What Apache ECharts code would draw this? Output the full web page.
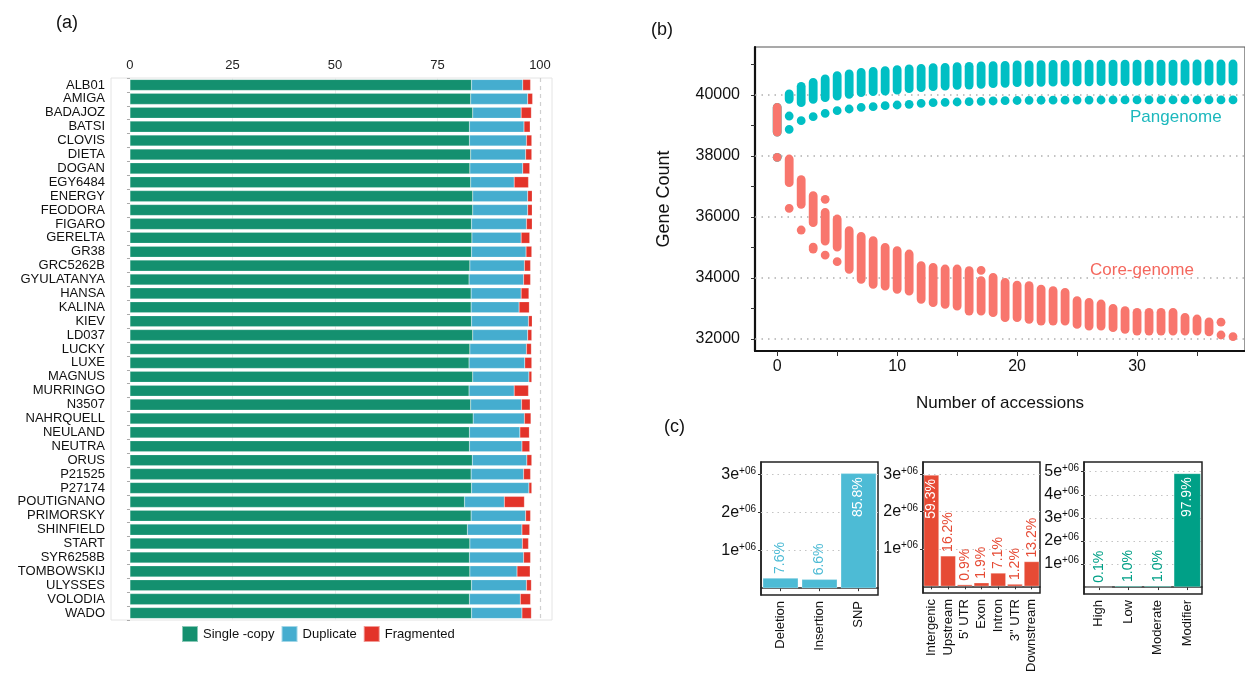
<!DOCTYPE html>
<html>
<head>
<meta charset="utf-8">
<script src="https://cdn.jsdelivr.net/npm/echarts@6/dist/echarts.min.js"></script>
<style>
  html, body { margin: 0; padding: 0; background: #fff; }
  #main { width: 1245px; height: 675px; }
</style>
</head>
<body>
<div id="main"></div>
<script>
const FONT = '"Liberation Sans", Arial, Helvetica, sans-serif';

// (a) BUSCO completeness per accession (%)
const accessions = ['ALB01', 'AMIGA', 'BADAJOZ', 'BATSI', 'CLOVIS', 'DIETA', 'DOGAN', 'EGY6484', 'ENERGY',
  'FEODORA', 'FIGARO', 'GERELTA', 'GR38', 'GRC5262B', 'GYULATANYA', 'HANSA', 'KALINA', 'KIEV', 'LD037',
  'LUCKY', 'LUXE', 'MAGNUS', 'MURRINGO', 'N3507', 'NAHRQUELL', 'NEULAND', 'NEUTRA', 'ORUS', 'P21525',
  'P27174', 'POUTIGNANO', 'PRIMORSKY', 'SHINFIELD', 'START', 'SYR6258B', 'TOMBOWSKIJ', 'ULYSSES',
  'VOLODIA', 'WADO'];
const singleCopy = [83.3, 83.1, 83.6, 82.8, 82.8, 83.1, 82.9, 83.1, 83.6, 83.6, 83.3, 83.4, 83.3, 82.9,
  82.7, 83.2, 83.2, 83.3, 83.6, 82.9, 82.7, 83.6, 82.7, 83.1, 83.7, 82.8, 82.8, 83.5, 83.2, 83.3, 81.6,
  83.2, 82.3, 82.9, 82.8, 82.9, 83.3, 82.8, 83.3];
const duplicated = [12.5, 13.9, 11.8, 13.3, 13.9, 13.4, 12.9, 10.6, 13.4, 13.4, 13.4, 12.0, 13.3, 13.3,
  13.3, 12.2, 11.7, 13.9, 13.4, 13.8, 13.6, 13.7, 11.0, 12.4, 12.5, 12.3, 12.8, 13.3, 12.8, 14.0, 9.7,
  13.3, 13.3, 12.8, 13.2, 11.5, 13.4, 12.4, 12.3];
const fragmented = [1.9, 1.2, 2.5, 1.5, 1.3, 1.5, 1.7, 3.5, 1.1, 1.1, 1.4, 2.1, 1.4, 1.5, 1.7, 1.9, 2.5,
  0.9, 1.0, 1.2, 1.7, 0.7, 3.5, 2.1, 1.6, 2.3, 1.9, 1.2, 1.7, 0.7, 4.9, 1.2, 1.9, 1.5, 1.7, 3.2, 1.2,
  2.5, 2.3];
const buscoTicks = [0, 25, 50, 75, 100];

// (b) pan/core genome curves: per number of accessions, range of gene counts
const nAccessions = [0, 1, 2, 3, 4, 5, 6, 7, 8, 9, 10, 11, 12, 13, 14, 15, 16, 17, 18, 19, 20, 21, 22, 23,
  24, 25, 26, 27, 28, 29, 30, 31, 32, 33, 34, 35, 36, 37, 38];
const panHigh = [39596, 40034, 40286, 40417, 40526, 40635, 40690, 40744, 40777, 40800, 40832, 40854, 40876,
  40898, 40909, 40930, 40941, 40952, 40963, 40974, 40985, 40990, 40995, 41000, 41003, 41006, 41008, 41010,
  41011, 41012, 41013, 41014, 41015, 41015, 41016, 41016, 41017, 41017, 41017];
const panLow = [38786, 39857, 39747, 39857, 39912, 39966, 40021, 40075, 40108, 40130, 40163, 40207, 40240,
  40272, 40294, 40316, 40327, 40349, 40371, 40382, 40404, 40410, 40415, 40420, 40425, 40430, 40434, 40437,
  40440, 40442, 40444, 40446, 40448, 40450, 40452, 40454, 40456, 40458, 40459];
const panLone = [[0, 37956], [1, 39311], [1, 38875], [2, 39157], [3, 39290], [4, 39400], [5, 39486],
  [6, 39541], [7, 39595], [8, 39617], [9, 39650], [10, 39672], [11, 39694], [12, 39727], [13, 39749],
  [14, 39760], [15, 39771], [16, 39782], [17, 39793], [18, 39804], [19, 39815], [20, 39820], [21, 39825],
  [22, 39828], [23, 39830], [24, 39832], [25, 39834], [26, 39835], [27, 39836], [28, 39837], [29, 39838],
  [30, 39838], [31, 39839], [32, 39839], [33, 39840], [34, 39840], [35, 39840], [36, 39840], [37, 39840],
  [38, 39840]];
const coreHigh = [39596, 37901, 37223, 36699, 36152, 35934, 35551, 35365, 35223, 35004, 34895, 34786, 34404,
  34349, 34294, 34294, 34240, 33912, 34021, 33857, 33769, 33747, 33638, 33584, 33529, 33256, 33201, 33147,
  33004, 32928, 32873, 32873, 32873, 32873, 32709, 32655, 32560, 32131, 32080];
const coreLow = [38786, 37125, 36414, 35813, 35212, 35015, 34283, 33955, 33791, 33736, 33627, 33572, 33299,
  33190, 33135, 33081, 32917, 32917, 32862, 32698, 32698, 32643, 32589, 32589, 32589, 32479, 32425, 32425,
  32370, 32316, 32261, 32261, 32261, 32261, 32261, 32261, 32230, 32131, 32080];
const coreLone = [[0, 37956], [1, 36283], [2, 35573], [3, 35015], [3, 34950], [4, 36578], [4, 34752],
  [5, 34535], [17, 34250], [37, 32551]];
const geneTicks = [32000, 34000, 36000, 38000, 40000];
const geneMinor = [32000, 33000, 34000, 35000, 36000, 37000, 38000, 39000, 40000, 41000];
const accTicks = [0, 10, 20, 30];
const accMinor = [0, 5, 10, 15, 20, 25, 30, 35];

// (c) variant annotation counts
const varTypes = ['Deletion', 'Insertion', 'SNP'];
const varCounts = [268000, 233000, 3030000];
const varPct = ['7.6%', '6.6%', '85.8%'];
const regions = ['Intergenic', 'Upstream', "5' UTR", 'Exon', 'Intron', '3" UTR', 'Downstream'];
const regionCounts = [2980000, 815000, 45000, 96000, 357000, 60000, 664000];
const regionPct = ['59.3%', '16.2%', '0.9%', '1.9%', '7.1%', '1.2%', '13.2%'];
const impacts = ['High', 'Low', 'Moderate', 'Modifier'];
const impactCounts = [5000, 50300, 50300, 4925000];
const impactPct = ['0.1%', '1.0%', '1.0%', '97.9%'];
const countTicks3 = [1000000, 2000000, 3000000];
const countTicks5 = [1000000, 2000000, 3000000, 4000000, 5000000];

const GREEN = '#14906f', BLUE = '#45adcf', RED = '#e3342a';
const PAN = '#00bfc4', CORE = '#f8766d';
const C1 = '#4dbbd5', C2 = '#e64b35', C3 = '#00a087';

const chart = echarts.init(document.getElementById('main'));

// background reference lines, kept under the marks
function gridLines(xi, yi, key, values, lineStyle) {
  return {
    type: 'line', xAxisIndex: xi, yAxisIndex: yi, data: [], silent: true, z: 1,
    markLine: {
      silent: true, symbol: 'none', animation: false, label: { show: false }, z: 1,
      lineStyle: lineStyle,
      data: values.map(v => ({ [key]: v }))
    }
  };
}

// a column of overlapping dots drawn as a rounded bar
function dotColumn(color) {
  return function (params, api) {
    const top = api.coord([api.value(0), api.value(2)]);
    const bot = api.coord([api.value(0), api.value(1)]);
    const r = 4.4;
    return {
      type: 'rect',
      shape: { x: top[0] - r, y: top[1] - r, width: 2 * r, height: bot[1] - top[1] + 2 * r, r: r },
      style: { fill: color }
    };
  };
}

const panData = nAccessions.map((x, i) => [x, panLow[i], panHigh[i]])
  .concat(panLone.map(p => [p[0], p[1], p[1]]));
const coreData = nAccessions.map((x, i) => [x, coreLow[i], coreHigh[i]])
  .concat(coreLone.map(p => [p[0], p[1], p[1]]));

function sciLabel(v) {
  return '{m|' + Math.round(v / 1e6) + 'e}{s|+06}';
}

function countYAxis(gi, min, max, ticks) {
  return {
    type: 'value', gridIndex: gi, min: min, max: max,
    axisLine: { show: true, lineStyle: { color: '#222', width: 1.5 } },
    axisTick: { show: true, length: 3, customValues: ticks, lineStyle: { color: '#333' } },
    splitLine: { show: false },
    axisLabel: {
      customValues: ticks, margin: 5, formatter: sciLabel,
      rich: {
        m: { fontSize: 16, fontFamily: FONT, color: '#111', lineHeight: 17 },
        s: { fontSize: 10, fontFamily: FONT, color: '#111', verticalAlign: 'top', lineHeight: 10 }
      }
    }
  };
}

function catXAxis(gi, cats) {
  return {
    type: 'category', gridIndex: gi, data: cats,
    axisLine: { show: true, lineStyle: { color: '#222', width: 1.5 } },
    axisTick: { show: true, alignWithLabel: true, length: 3, lineStyle: { color: '#333' } },
    axisLabel: { rotate: 90, fontSize: 13, fontFamily: FONT, color: '#111', margin: 6, interval: 0 }
  };
}

function pctBars(gi, counts, pcts, color) {
  const peak = Math.max.apply(null, counts);
  return {
    type: 'bar', xAxisIndex: gi, yAxisIndex: gi, barCategoryGap: '9%', z: 3,
    itemStyle: { color: color, borderColor: 'rgba(255,255,255,0.6)', borderWidth: 0.5 },
    data: counts.map((v, i) => {
      const inside = v > peak * 0.5;
      return {
        value: v,
        label: inside
          ? { show: true, position: 'insideTop', rotate: 90, align: 'right', verticalAlign: 'middle',
              distance: 4, color: '#fff', fontSize: 14, fontFamily: FONT, formatter: pcts[i] }
          : { show: true, position: 'top', rotate: 90, align: 'left', verticalAlign: 'middle',
              distance: 4, color: color, fontSize: 14, fontFamily: FONT, formatter: pcts[i] }
      };
    })
  };
}

const cGridStyle = { show: true, borderColor: '#222', borderWidth: 1.5, backgroundColor: '#fff' };
const cDots = { type: [1.5, 4], color: '#c4c4c4', width: 1.2 };

const option = {
  animation: false,
  backgroundColor: '#fff',
  textStyle: { fontFamily: FONT },
  grid: [
    { left: 111, top: 78, width: 441, height: 542, show: true, borderColor: '#e4e4e4', borderWidth: 1 },
    { left: 755, top: 47, width: 490, height: 304, show: true, borderColor: '#555', borderWidth: 1.2 },
    Object.assign({ left: 761, top: 462, width: 117, height: 133 }, cGridStyle),
    Object.assign({ left: 923, top: 462, width: 117, height: 132 }, cGridStyle),
    Object.assign({ left: 1084, top: 462, width: 118, height: 132 }, cGridStyle)
  ],
  legend: {
    data: ['Single -copy', 'Duplicate', 'Fragmented'],
    left: 181, top: 625, icon: 'rect', itemWidth: 16, itemHeight: 16, itemGap: 6, padding: 0,
    textStyle: { fontSize: 13, fontFamily: FONT, color: '#111' }
  },
  xAxis: [
    {
      type: 'value', gridIndex: 0, position: 'top', min: -4.63, max: 102.93,
      axisLine: { show: false }, axisTick: { show: false }, splitLine: { show: false },
      axisLabel: { customValues: buscoTicks, fontSize: 13, fontFamily: FONT, color: '#222', margin: 6 }
    },
    {
      type: 'value', gridIndex: 1, min: -1.85, max: 39,
      name: 'Number of accessions', nameLocation: 'middle', nameGap: 44,
      nameTextStyle: { fontSize: 17, fontFamily: FONT, color: '#111' },
      axisLine: { show: true, onZero: false, lineStyle: { color: '#111', width: 2.2 } },
      axisTick: { show: true, length: 5, customValues: accMinor, lineStyle: { color: '#333' } },
      splitLine: { show: false },
      axisLabel: { customValues: accTicks, fontSize: 16, fontFamily: FONT, color: '#111', margin: 8 }
    },
    catXAxis(2, varTypes),
    catXAxis(3, regions),
    catXAxis(4, impacts)
  ],
  yAxis: [
    {
      type: 'category', gridIndex: 0, data: accessions, inverse: true,
      axisLine: { show: false },
      axisTick: { show: true, length: 3, lineStyle: { color: '#aaa' } },
      axisLabel: { fontSize: 13, fontFamily: FONT, color: '#111', margin: 6, interval: 0 }
    },
    {
      type: 'value', gridIndex: 1, min: 31606, max: 41574,
      name: 'Gene Count', nameLocation: 'middle', nameGap: 82, nameRotate: 90,
      nameTextStyle: { fontSize: 18, fontFamily: FONT, color: '#111' },
      axisLine: { show: true, onZero: false, lineStyle: { color: '#111', width: 2.2 } },
      axisTick: { show: true, length: 4, customValues: geneMinor, lineStyle: { color: '#333' } },
      splitLine: { show: false },
      axisLabel: { customValues: geneTicks, fontSize: 16, fontFamily: FONT, color: '#111', margin: 15,
        formatter: v => String(v) }
    },
    countYAxis(2, -180000, 3330000, countTicks3),
    countYAxis(3, -180000, 3330000, countTicks3),
    countYAxis(4, -300000, 5420000, countTicks5)
  ],
  series: [
    gridLines(0, 0, 'xAxis', buscoTicks.slice(1, 4), { type: 'solid', color: '#ececec', width: 1 }),
    gridLines(0, 0, 'xAxis', [100], { type: [4, 4], color: '#cfcfcf', width: 1.2 }),
    {
      name: 'Single -copy', type: 'bar', stack: 'busco', xAxisIndex: 0, yAxisIndex: 0, barWidth: 11, z: 3,
      itemStyle: { color: GREEN, borderColor: 'rgba(255,255,255,0.5)', borderWidth: 0.4 }, data: singleCopy
    },
    {
      name: 'Duplicate', type: 'bar', stack: 'busco', xAxisIndex: 0, yAxisIndex: 0, barWidth: 11, z: 3,
      itemStyle: { color: BLUE, borderColor: 'rgba(255,255,255,0.5)', borderWidth: 0.4 }, data: duplicated
    },
    {
      name: 'Fragmented', type: 'bar', stack: 'busco', xAxisIndex: 0, yAxisIndex: 0, barWidth: 11, z: 3,
      itemStyle: { color: RED, borderColor: 'rgba(255,255,255,0.5)', borderWidth: 0.4 }, data: fragmented
    },

    gridLines(1, 1, 'yAxis', geneTicks, { type: [1.5, 5], color: '#b0b0b0', width: 1.5 }),
    {
      name: 'Pangenome', type: 'custom', xAxisIndex: 1, yAxisIndex: 1, z: 3,
      renderItem: dotColumn(PAN), encode: { x: 0, y: [1, 2] }, data: panData
    },
    {
      name: 'Core-genome', type: 'custom', xAxisIndex: 1, yAxisIndex: 1, z: 4,
      renderItem: dotColumn(CORE), encode: { x: 0, y: [1, 2] }, data: coreData
    },

    gridLines(2, 2, 'yAxis', countTicks3, cDots),
    gridLines(3, 3, 'yAxis', countTicks3, cDots),
    gridLines(4, 4, 'yAxis', countTicks5, cDots),
    pctBars(2, varCounts, varPct, C1),
    pctBars(3, regionCounts, regionPct, C2),
    pctBars(4, impactCounts, impactPct, C3)
  ],
  graphic: [
    { type: 'text', left: 56, top: 14, style: { text: '(a)', fontSize: 18, fontFamily: FONT, fill: '#111' } },
    { type: 'text', left: 651, top: 21, style: { text: '(b)', fontSize: 18, fontFamily: FONT, fill: '#111' } },
    { type: 'text', left: 664, top: 418, style: { text: '(c)', fontSize: 18, fontFamily: FONT, fill: '#111' } },
    { type: 'text', left: 1130, top: 109, z: 10,
      style: { text: 'Pangenome', fontSize: 17, fontFamily: FONT, fill: '#1db8bd' } },
    { type: 'text', left: 1090, top: 262, z: 10,
      style: { text: 'Core-genome', fontSize: 17, fontFamily: FONT, fill: '#f4675d' } }
  ]
};

chart.setOption(option);
</script>
</body>
</html>
